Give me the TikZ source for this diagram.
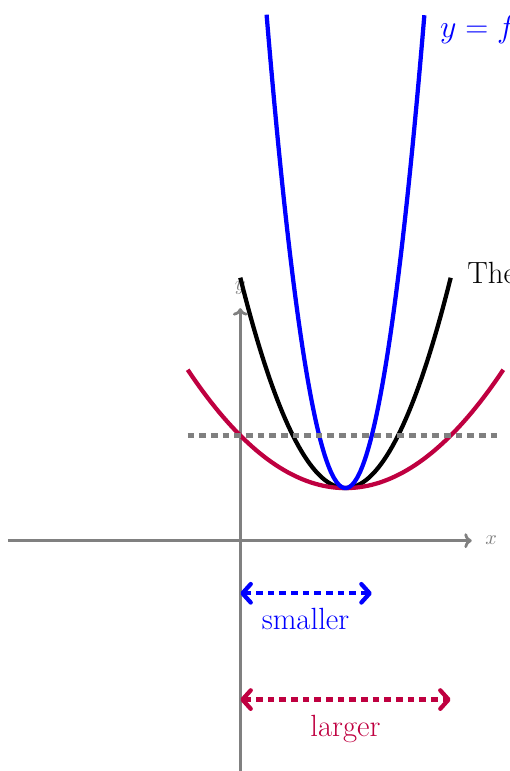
\documentclass[tikz,border=0pt]{standalone}
\usetikzlibrary{arrows.meta}
\definecolor{myred}{rgb}{0.75,0,0.25}
\begin{document}
\begin{tikzpicture}[x=1cm,y=1cm,
  axis/.style={draw=gray,line width=1.5pt,-{To[length=4pt,width=8pt]}},
  curve/.style={line width=2.3pt},
  dashline/.style={line width=2.3pt,dash pattern=on 3.6pt off 2.7pt},
  barbs/.style={{Straight Barb[round,length=4.5pt,width=10pt]}-{Straight Barb[round,length=4.5pt,width=10pt]}},
  biglabel/.style={font=\fontsize{16.6}{20}\selectfont,inner sep=0pt},
  axlabel/.style={font=\fontsize{11}{13}\selectfont,text=gray,inner sep=0pt}]
\useasboundingbox (-4.568,-4.378) rectangle (5.127,10.279);
% axes
\coordinate (xs) at (-4.42,0);
\coordinate (xe) at (4.4,0);
\coordinate (ys) at (0,-4.5);
\coordinate (ye) at (0,4.42);
\draw[axis] (xs) -- (xe);
\draw[axis] (ys) -- (ye);
\node[axlabel] (xl) at (4.77,0.01) {$x$};
\node[axlabel] (yl) at (0,4.81) {$y$};
% curves
\draw[curve,black] plot[domain=0:4,samples=80] (\x,{(\x-2)^2+1});
\draw[curve,myred] plot[domain=-1:5,samples=80] (\x,{0.25*(\x-2)^2+1});
\draw[curve,blue] plot[domain=0.5:3.5,samples=80] (\x,{4*(\x-2)^2+1});
\coordinate (ds) at (-1,2);
\coordinate (de) at (4.97,2);
\draw[dashline,gray] (ds) -- (de);
% labels of curves
\node[biglabel,anchor=base west,text=blue] (fl) at (3.79,9.557) {$y=f$};
\node[biglabel,anchor=base west] (tl) at (4.31,4.88) {The};
% arrows
\coordinate (a1) at (0,-1);
\coordinate (b1) at (2.5,-1);
\coordinate (a2) at (0,-3.02);
\coordinate (b2) at (4,-3.02);
\draw[dashline,blue,barbs] (a1) -- (b1);
\draw[dashline,myred,barbs] (a2) -- (b2);
\node[biglabel,anchor=base,text=blue] (sm) at (1.24,-1.679) {smaller};
\node[biglabel,anchor=base,text=myred] (lg) at (2.0,-3.713) {larger};
\end{tikzpicture}
\end{document}
